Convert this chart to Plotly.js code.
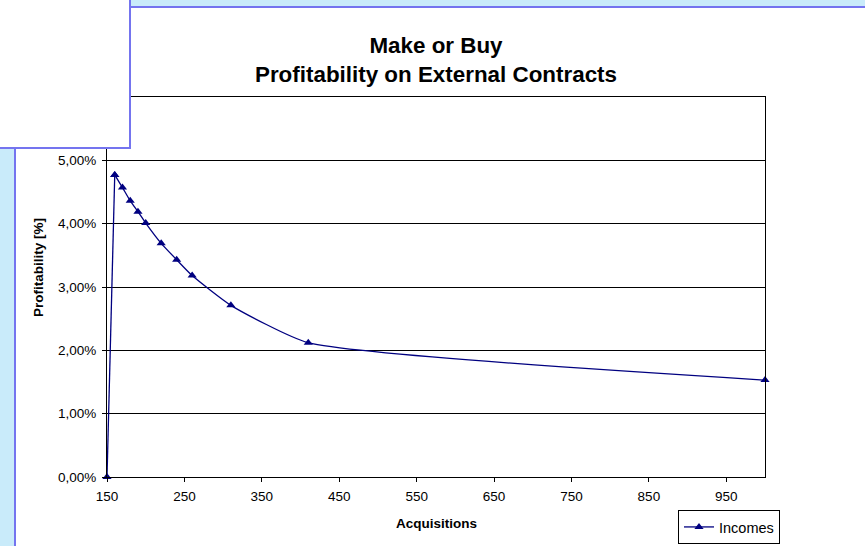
<!DOCTYPE html>
<html>
<head>
<meta charset="utf-8">
<script src="https://cdn.plot.ly/plotly-3.0.1.min.js"></script>
<style>
html,body{margin:0;padding:0;background:#c9ebfa;overflow:hidden;}
#chart{width:865px;height:546px;}
</style>
</head>
<body>
<div id="chart"></div>
<script>
// ---- data ----
const acquisitions = [150, 160, 170, 180, 190, 200, 220, 240, 260, 310, 410, 1000];
const profitability = [0, 0.0477, 0.0457, 0.0436, 0.0419, 0.0401, 0.0369, 0.0343, 0.0318, 0.0271, 0.0212, 0.0153];
const seriesName = 'Incomes';
const yTickVals = [0, 0.01, 0.02, 0.03, 0.04, 0.05, 0.06];
const yTickText = ['0,00%', '1,00%', '2,00%', '3,00%', '4,00%', '5,00%', ''];
const xTickVals = [150, 250, 350, 450, 550, 650, 750, 850, 950];
const xTickText = ['150', '250', '350', '450', '550', '650', '750', '850', '950'];
const chartTitle = 'Make or Buy<br>Profitability on External Contracts';
const xTitle = 'Acquisitions';
const yTitle = 'Profitability [%]';

// ---- layout helpers (pixel -> paper) ----
const W = 865, H = 546, ML = 107, MR = 100, MT = 97, MB = 69;
const PW = W - ML - MR, PH = H - MT - MB;
const px = p => (p - ML) / PW;
const py = p => (H - MB - p) / PH;

const navy = '#000080';
const frame = '#7474ef';
const font = 'Liberation Sans, Arial, sans-serif';

// the first segment (rise from zero to the peak) is straight, the rest is smoothed
const riseTrace = {
  x: acquisitions.slice(0, 2),
  y: profitability.slice(0, 2),
  name: seriesName, legendgroup: 'inc', showlegend: false,
  type: 'scatter', mode: 'lines+markers',
  line: {color: navy, width: 1.3, shape: 'linear'},
  marker: {symbol: 'triangle-up', size: 8, color: navy},
  cliponaxis: false
};
const mainTrace = {
  x: acquisitions.slice(1),
  y: profitability.slice(1),
  name: seriesName, legendgroup: 'inc', showlegend: true,
  type: 'scatter', mode: 'lines+markers',
  line: {color: navy, width: 1.3, shape: 'spline', smoothing: 0.5},
  marker: {symbol: 'triangle-up', size: 8, color: navy},
  cliponaxis: false
};

const layout = {
  width: W, height: H,
  margin: {l: ML, r: MR, t: MT, b: MB, pad: 0, autoexpand: false},
  paper_bgcolor: '#c9ebfa',
  plot_bgcolor: '#ffffff',
  font: {family: font, color: '#000000', size: 13.5},
  title: {
    text: chartTitle,
    font: {family: font, size: 22.4, color: '#000000', weight: 'bold'},
    x: 0.5, xref: 'paper', xanchor: 'center',
    y: 1 - 53 / H, yref: 'container', yanchor: 'middle'
  },
  showlegend: true,
  legend: {
    x: 678 / W, y: 1 - 510 / H, xref: 'container', yref: 'container',
    xanchor: 'left', yanchor: 'top',
    bgcolor: '#ffffff', bordercolor: '#000000', borderwidth: 1,
    font: {family: font, size: 14.5, color: '#000000'},
    tracegroupgap: 0, itemwidth: 30
  },
  xaxis: {
    range: [150, 1000],
    tickvals: xTickVals, ticktext: xTickText,
    ticks: 'outside', ticklen: 4, tickcolor: '#000000', tickwidth: 1,
    showline: true, linecolor: '#000000', linewidth: 1, mirror: true,
    showgrid: false, zeroline: false,
    ticklabelstandoff: 3,
    tickfont: {family: font, size: 13.5, color: '#000000'}
  },
  xaxis2: {
    range: [150, 1000], overlaying: 'x', matches: 'x', anchor: 'y',
    tickvals: xTickVals, ticks: 'inside', ticklen: 5, tickcolor: '#000000',
    showticklabels: false, showline: false, showgrid: false, zeroline: false
  },
  yaxis: {
    range: [0, 0.06],
    tickvals: yTickVals, ticktext: yTickText,
    ticks: 'outside', ticklen: 4, tickcolor: '#000000', tickwidth: 1,
    showline: true, linecolor: '#000000', linewidth: 1, mirror: true,
    showgrid: true, gridcolor: '#000000', gridwidth: 1, zeroline: false,
    ticklabelstandoff: 3,
    tickfont: {family: font, size: 13.5, color: '#000000'}
  },
  annotations: [
    {text: xTitle, xref: 'paper', yref: 'paper', x: 0.5, y: py(523),
     xanchor: 'center', yanchor: 'middle', showarrow: false,
     font: {family: font, size: 13.5, color: '#000000', weight: 'bold'}},
    {text: yTitle, xref: 'paper', yref: 'paper', x: px(38), y: py(268),
     xanchor: 'center', yanchor: 'middle', showarrow: false, textangle: -90,
     font: {family: font, size: 13.5, color: '#000000', weight: 'bold'}}
  ],
  shapes: [
    {type: 'rect', xref: 'paper', yref: 'paper', layer: 'below',
     x0: px(15), x1: px(905), y0: py(580), y1: py(7),
     fillcolor: '#ffffff', line: {color: frame, width: 2}},
    {type: 'rect', xref: 'paper', yref: 'paper', layer: 'above',
     x0: px(-10), x1: px(130), y0: py(148), y1: py(-10),
     fillcolor: '#ffffff', line: {color: frame, width: 2}}
  ]
};

Plotly.newPlot('chart', [riseTrace, mainTrace], layout, {displayModeBar: false, staticPlot: true});
</script>
</body>
</html>
